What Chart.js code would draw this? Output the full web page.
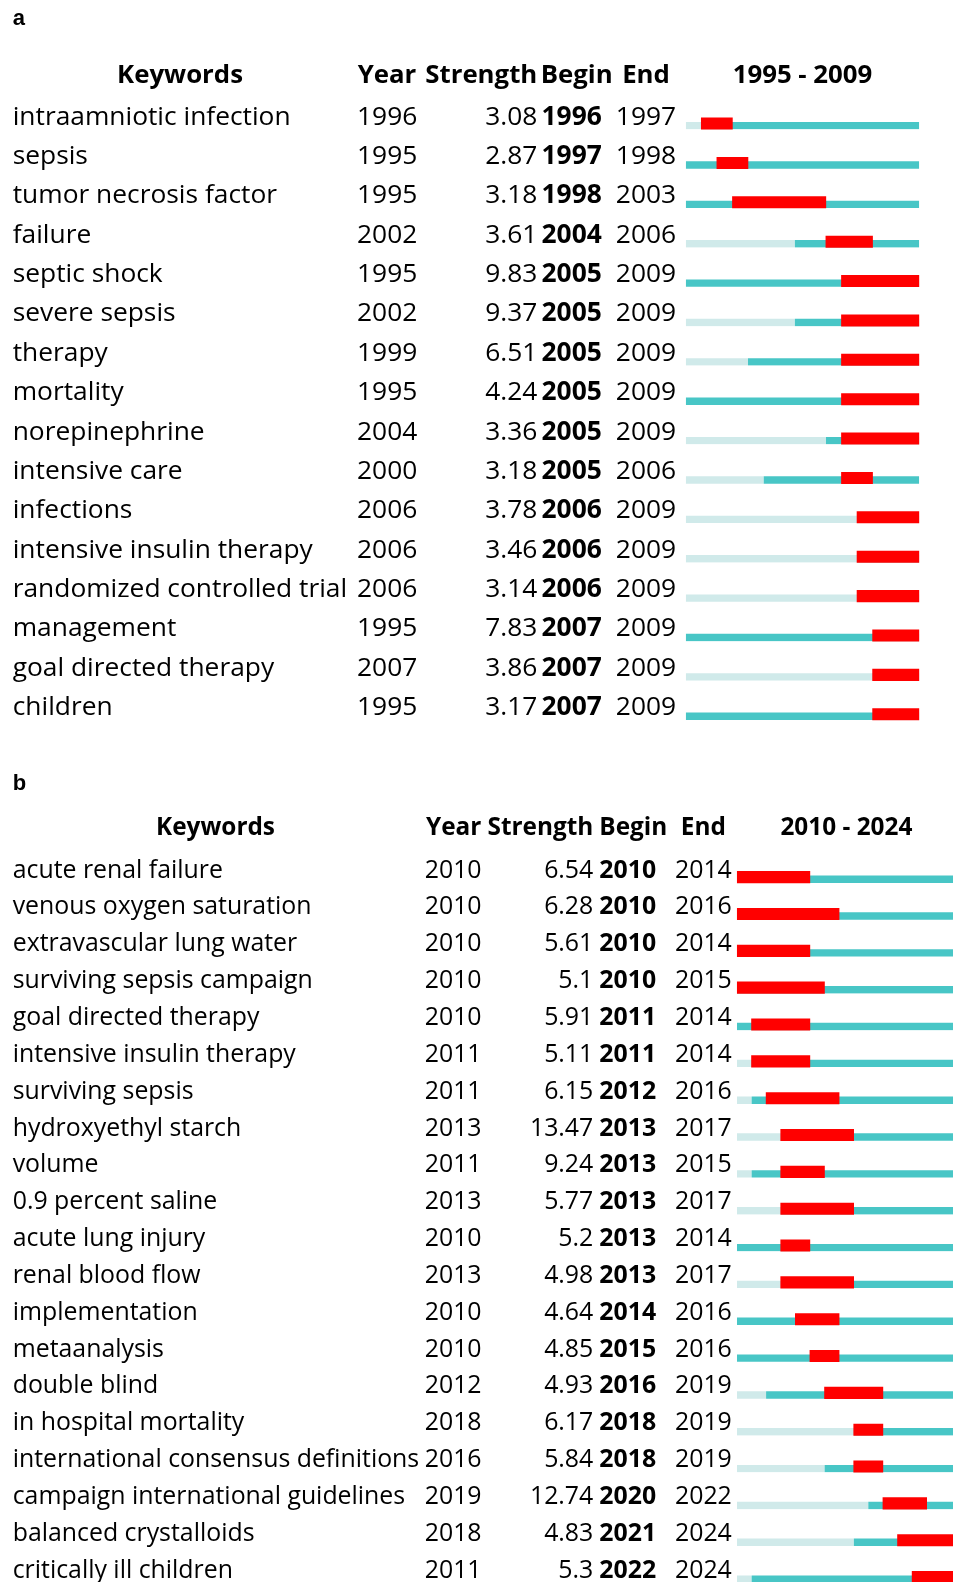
<!DOCTYPE html>
<html>
<head>
<meta charset="utf-8">
<script src="https://cdn.jsdelivr.net/npm/chart.js@4.4.1/dist/chart.umd.min.js"></script>
<style>
html,body{margin:0;padding:0;background:#fff;width:953px;height:1582px;overflow:hidden}
canvas{position:absolute;left:0}
#chartA{top:0}
#chartB{top:740px}
</style>
</head>
<body>
<canvas id="chartA" width="953" height="745"></canvas>
<canvas id="chartB" width="1000" height="870"></canvas>
<script>
// ===== panel a: 1995 - 2009 =====
const keywordsA = ['intraamniotic infection','sepsis','tumor necrosis factor','failure','septic shock','severe sepsis','therapy','mortality','norepinephrine','intensive care','infections','intensive insulin therapy','randomized controlled trial','management','goal directed therapy','children'];
const yearA     = [1996,1995,1995,2002,1995,2002,1999,1995,2004,2000,2006,2006,2006,1995,2007,1995];
const strengthA = [3.08,2.87,3.18,3.61,9.83,9.37,6.51,4.24,3.36,3.18,3.78,3.46,3.14,7.83,3.86,3.17];
const beginA    = [1996,1997,1998,2004,2005,2005,2005,2005,2005,2005,2006,2006,2006,2007,2007,2007];
const endA      = [1997,1998,2003,2006,2009,2009,2009,2009,2009,2006,2009,2009,2009,2009,2009,2009];
const rangeA    = [1995,2009];

// ===== panel b: 2010 - 2024 =====
const keywordsB = ['acute renal failure','venous oxygen saturation','extravascular lung water','surviving sepsis campaign','goal directed therapy','intensive insulin therapy','surviving sepsis','hydroxyethyl starch','volume','0.9 percent saline','acute lung injury','renal blood flow','implementation','metaanalysis','double blind','in hospital mortality','international consensus definitions','campaign international guidelines','balanced crystalloids','critically ill children'];
const yearB     = [2010,2010,2010,2010,2010,2011,2011,2013,2011,2013,2010,2013,2010,2010,2012,2018,2016,2019,2018,2011];
const strengthB = [6.54,6.28,5.61,5.1,5.91,5.11,6.15,13.47,9.24,5.77,5.2,4.98,4.64,4.85,4.93,6.17,5.84,12.74,4.83,5.3];
const beginB    = [2010,2010,2010,2010,2011,2011,2012,2013,2013,2013,2013,2013,2014,2015,2016,2018,2018,2020,2021,2022];
const endB      = [2014,2016,2014,2015,2014,2014,2016,2017,2015,2017,2014,2017,2016,2016,2019,2019,2019,2022,2024,2024];
const rangeB    = [2010,2024];

const RED='#ff0000', TEAL='#48c6c6', LIGHT='#d0eaea';
const FONT='"Open Sans","Noto Sans",sans-serif';

// font size so that a sample text gets the width seen in the picture
const mctx=document.createElement('canvas').getContext('2d');
function fitSize(text,weight,target){mctx.font=`${weight} 100px ${FONT}`;return 100*target/mctx.measureText(text).width;}

// text columns drawn next to the bars
function tablePlugin(p){
  return {id:'burstTable',afterDatasetsDraw(chart){
    const ctx=chart.ctx, ys=chart.scales.y, xs=chart.scales.x, c=p.cols;
    ctx.save();ctx.fillStyle='#000';ctx.textBaseline='alphabetic';
    ctx.font='bold 22px "Liberation Sans",Arial,sans-serif';ctx.textAlign='left';
    ctx.fillText(p.letter,12.7,c.letterY);
    // header row
    ctx.font=`bold ${p.hSize}px ${FONT}`;
    ctx.textAlign='center';ctx.fillText('Keywords',c.kwHdrC,c.hdrY);
    ctx.textAlign='left';ctx.fillText('Year',c.yearHdr,c.hdrY);
    ctx.textAlign='right';ctx.fillText('Strength',c.strR,c.hdrY);
    ctx.textAlign='left';ctx.fillText('Begin',c.beginHdr,c.hdrY);
    ctx.textAlign='center';ctx.fillText('End',c.endC,c.hdrY);
    const mid=(xs.getPixelForValue(p.range[0])+xs.getPixelForValue(p.range[1]+1))/2;
    ctx.fillText(`${p.range[0]} - ${p.range[1]}`,mid,c.hdrY);
    // rows
    p.keywords.forEach((k,i)=>{
      const y=ys.getPixelForValue(i)+c.rowShift;
      ctx.font=`${p.size}px ${FONT}`;
      ctx.textAlign='left';ctx.fillText(k,c.kw,y);ctx.fillText(String(p.year[i]),c.year,y);
      ctx.textAlign='right';ctx.fillText(String(p.strength[i]),c.strR,y);
      ctx.textAlign='center';ctx.fillText(String(p.end[i]),c.endC,y);
      ctx.font=`bold ${p.size}px ${FONT}`;ctx.textAlign='left';ctx.fillText(String(p.begin[i]),c.begin,y);
    });
    ctx.restore();
  }};
}

function makeChart(id,p){
  const [from,to]=p.range;
  const light=p.year.map(y=>y===from?null:[from,y]);
  const teal=p.year.map(y=>[y,to+1]);
  const red=p.begin.map((b,i)=>[b,p.end[i]+1]);
  // thin bars: same thickness as red, top part left transparent so bottoms line up
  const thin={grouped:false,maxBarThickness:11.5,borderSkipped:false,borderWidth:{top:4.4,right:0,bottom:0,left:0},borderColor:'rgba(0,0,0,0)',inflateAmount:0.3};
  return new Chart(document.getElementById(id),{
    type:'bar',
    data:{labels:p.keywords,datasets:[
      {label:'Burst',data:red,backgroundColor:RED,grouped:false,maxBarThickness:11.5,borderWidth:0,inflateAmount:0.3,order:0},
      {label:'Present',data:teal,backgroundColor:TEAL,order:1,...thin},
      {label:'Absent',data:light,backgroundColor:LIGHT,order:2,...thin}]},
    options:{indexAxis:'y',responsive:false,animation:false,events:[],
      layout:{padding:p.pad},
      plugins:{legend:{display:false},tooltip:{enabled:false}},
      scales:{x:{type:'linear',min:from,max:to+1,display:false},y:{display:false}}},
    plugins:[tablePlugin(p)]
  });
}

makeChart('chartA',{
  letter:'a',keywords:keywordsA,year:yearA,strength:strengthA,begin:beginA,end:endA,range:rangeA,
  size:fitSize('intraamniotic infection','normal',278),hSize:fitSize('Keywords','bold',126),
  pad:{left:685.7,right:33.7,top:103.86,bottom:11.1},
  cols:{kw:12.7,year:357,strR:537.3,begin:541.5,endC:646,kwHdrC:180,yearHdr:357.7,beginHdr:540.7,hdrY:83,rowShift:1,letterY:25}
});

makeChart('chartB',{
  letter:'b',keywords:keywordsB,year:yearB,strength:strengthB,begin:beginB,end:endB,range:rangeB,
  size:fitSize('venous oxygen saturation','normal',299),hSize:fitSize('Keywords','bold',119),
  pad:{left:736.9,right:44.1,top:118.73,bottom:14.5},
  cols:{kw:12.7,year:424.7,strR:593.3,begin:599.3,endC:703.4,kwHdrC:215.5,yearHdr:426,beginHdr:599.3,hdrY:95,rowShift:0.5,letterY:50}
});
</script>
</body>
</html>
